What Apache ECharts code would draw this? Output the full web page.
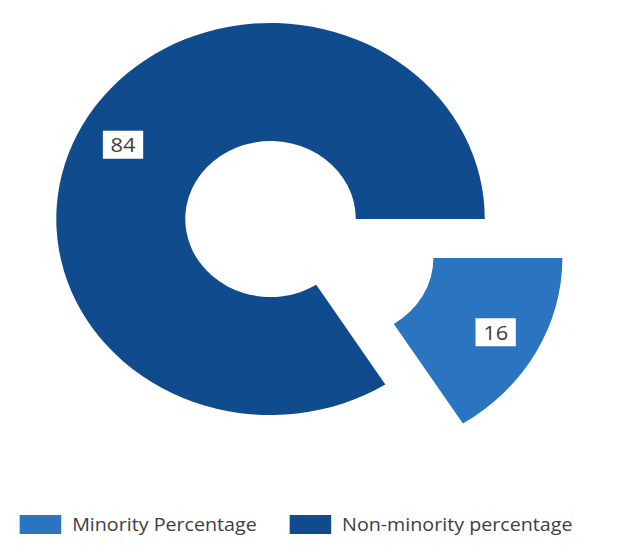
<!DOCTYPE html>
<html>
<head>
<meta charset="utf-8">
<script src="https://cdn.jsdelivr.net/npm/echarts@6/dist/echarts.min.js"></script>
<style>
  html, body { margin: 0; padding: 0; background: #ffffff; overflow: hidden; }
  /* the chart is drawn slightly narrower, then widened to fill the page */
  #chart { width: 580px; height: 555px; transform: scaleX(1.0931); transform-origin: 0 0; }
</style>
</head>
<body>
<div id="chart"></div>
<script>
// Share of minority vs. non-minority, in percent
const categories = ['Minority Percentage', 'Non-minority percentage'];
const values = [16, 84];
const colors = ['#2a74c0', '#104c8d'];

const total = values.reduce((a, b) => a + b, 0);
// mid angle of each slice (degrees, counter-clockwise from 3 o'clock), slices run clockwise from 0
const midAngles = [];
let acc = 0;
values.forEach(v => {
  const span = v / total * 360;
  midAngles.push(-(acc + span / 2));
  acc += span;
});

const chart = echarts.init(document.getElementById('chart'), null, { renderer: 'svg' });
chart.setOption({
  animation: false,
  backgroundColor: '#ffffff',
  color: colors,
  legend: {
    data: categories,
    left: 13,
    top: 510,
    itemWidth: 38,
    itemHeight: 19,
    itemGap: 30,
    icon: 'rect',
    selectedMode: false,
    textStyle: {
      color: '#404040',
      fontSize: 18,
      fontFamily: 'Open Sans, sans-serif',
      padding: [0, 0, 0, 5]
    }
  },
  series: [{
    type: 'pie',
    center: [247.5, 219],
    radius: [78, 196],
    startAngle: 0,
    clockwise: true,
    selectedMode: 'single',
    selectedOffset: 81,
    avoidLabelOverlap: false,
    emphasis: { disabled: true },
    itemStyle: { borderWidth: 0 },
    label: {
      show: true,
      position: 'inside',
      formatter: '{c}',
      color: '#404040',
      fontSize: 20,
      fontFamily: 'Open Sans, sans-serif',
      backgroundColor: '#ffffff',
      padding: [3, 7],
      lineHeight: 22
    },
    labelLine: { show: false },
    labelLayout: function (params) {
      const a = midAngles[params.dataIndex] * Math.PI / 180;
      const extra = 14;
      return { dx: extra * Math.cos(a), dy: -extra * Math.sin(a) };
    },
    data: categories.map((name, i) => ({
      name: name,
      value: values[i],
      selected: i === 0
    }))
  }]
});
</script>
</body>
</html>
